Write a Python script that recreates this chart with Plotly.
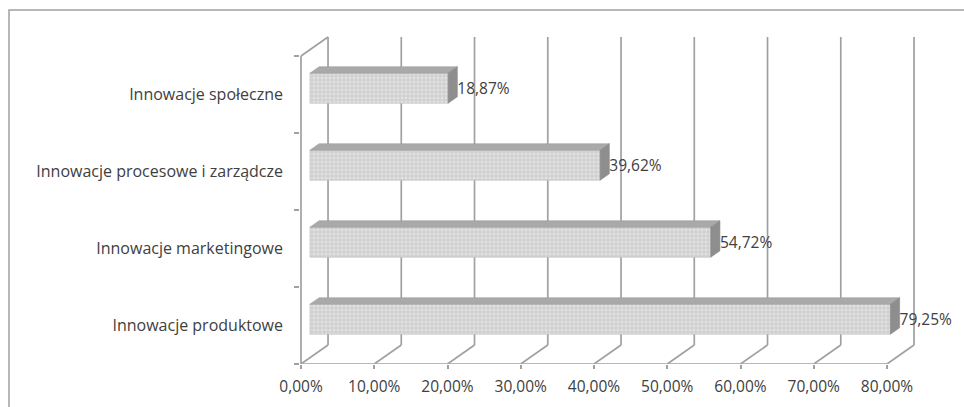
import plotly.graph_objects as go

# ---- data ----
categories = ["Innowacje produktowe", "Innowacje marketingowe",
              "Innowacje procesowe i zarządcze", "Innowacje społeczne"]
values = [79.25, 54.72, 39.62, 18.87]
tick_values = [0, 10, 20, 30, 40, 50, 60, 70, 80]
tick_labels = ["0,00%", "10,00%", "20,00%", "30,00%", "40,00%",
               "50,00%", "60,00%", "70,00%", "80,00%"]

# ---- 3D look parameters ----
DX = 3.69      # depth offset in x units (%)
DY = 0.247     # depth offset in y units (categories)
F1, F2 = 0.33, 0.67   # bar front/back depth fractions
H = 0.39       # bar height (category units)
GRID = "#a0a0a0"
TXT = "#404040"
FONT = "Open Sans"

fig = go.Figure()

# walls / gridlines
ymin, ymax = -0.5, len(categories) - 0.5
wx, wy = [], []
for t in tick_values:
    wx += [t + DX, t + DX, None]
    wy += [ymin + DY, ymax + DY, None]
    wx += [t, t + DX, None]
    wy += [ymin, ymin + DY, None]
wx += [tick_values[0], tick_values[-1], None, 0, 0, None, 0, DX, None]
wy += [ymin, ymin, None, ymin, ymax, None, ymax, ymax + DY, None]
fig.add_trace(go.Scatter(x=wx, y=wy, mode="lines",
                         line=dict(color=GRID, width=1.7),
                         hoverinfo="skip", showlegend=False))

# bars as 3D boxes
for i, v in enumerate(values):
    y0 = i - H / 2
    y1 = i + H / 2
    # front face
    fig.add_trace(go.Scatter(
        x=[F1 * DX, v + F1 * DX, v + F1 * DX, F1 * DX, F1 * DX],
        y=[y0 + F1 * DY, y0 + F1 * DY, y1 + F1 * DY, y1 + F1 * DY, y0 + F1 * DY],
        mode="lines", fill="toself", fillcolor="#d9d9d9",
        fillpattern=dict(shape=".", fgcolor="#f4f4f4", bgcolor="#cfcfcf",
                         size=4, solidity=0.45),
        line=dict(color="#bdbdbd", width=0.6),
        hoverinfo="skip", showlegend=False))
    # top face
    fig.add_trace(go.Scatter(
        x=[F1 * DX, v + F1 * DX, v + F2 * DX, F2 * DX, F1 * DX],
        y=[y1 + F1 * DY, y1 + F1 * DY, y1 + F2 * DY, y1 + F2 * DY, y1 + F1 * DY],
        mode="lines", fill="toself", fillcolor="#a9a9a9",
        line=dict(color="#a0a0a0", width=0.6),
        hoverinfo="skip", showlegend=False))
    # side face
    fig.add_trace(go.Scatter(
        x=[v + F1 * DX, v + F1 * DX, v + F2 * DX, v + F2 * DX, v + F1 * DX],
        y=[y0 + F1 * DY, y1 + F1 * DY, y1 + F2 * DY, y0 + F2 * DY, y0 + F1 * DY],
        mode="lines", fill="toself", fillcolor="#8e8e8e",
        line=dict(color="#8a8a8a", width=0.6),
        hoverinfo="skip", showlegend=False))

# value labels
fig.add_trace(go.Scatter(
    x=[v + F2 * DX for v in values],
    y=[i + F1 * DY - 0.03 for i in range(len(values))],
    mode="text",
    text=[f"{v:.2f}".replace(".", ",") + "%" for v in values],
    textposition="middle right",
    textfont=dict(family=FONT, size=15.5, color=TXT),
    hoverinfo="skip", showlegend=False))

W, Hpx = 964, 407
L, B = 300, 43
px_per = 7.325
fig.update_layout(
    width=W, height=Hpx,
    margin=dict(l=L, r=0, t=0, b=B),
    paper_bgcolor="white", plot_bgcolor="white",
    xaxis=dict(range=[-1 / px_per, (W - L - 1) / px_per],
               tickvals=tick_values, ticktext=tick_labels,
               showgrid=False, zeroline=False, showline=False,
               ticks="outside", ticklen=4, tickcolor=GRID, tickwidth=1.5,
               ticklabelstandoff=4,
               tickfont=dict(family=FONT, size=15.5, color=TXT)),
    yaxis=dict(range=[-0.5, 325.5 / 77],
               tickvals=list(range(len(categories))), ticktext=categories,
               showgrid=False, zeroline=False, showline=False,
               ticks="", ticklabelstandoff=16,
               minor=dict(tickvals=[k - 0.5 for k in range(len(categories) + 1)],
                          ticks="outside", ticklen=5, tickcolor=GRID,
                          tickwidth=1.5, showgrid=False),
               tickfont=dict(family=FONT, size=16, color=TXT)),
    shapes=[dict(type="rect", xref="paper", yref="paper",
                 x0=(9 - L) / (W - L), x1=(975 - L) / (W - L),
                 y0=(Hpx - B - 420) / (Hpx - B), y1=(Hpx - B - 10) / (Hpx - B),
                 line=dict(color="#a0a0a0", width=1.5), layer="below")],
)

fig.write_html("out.html")
